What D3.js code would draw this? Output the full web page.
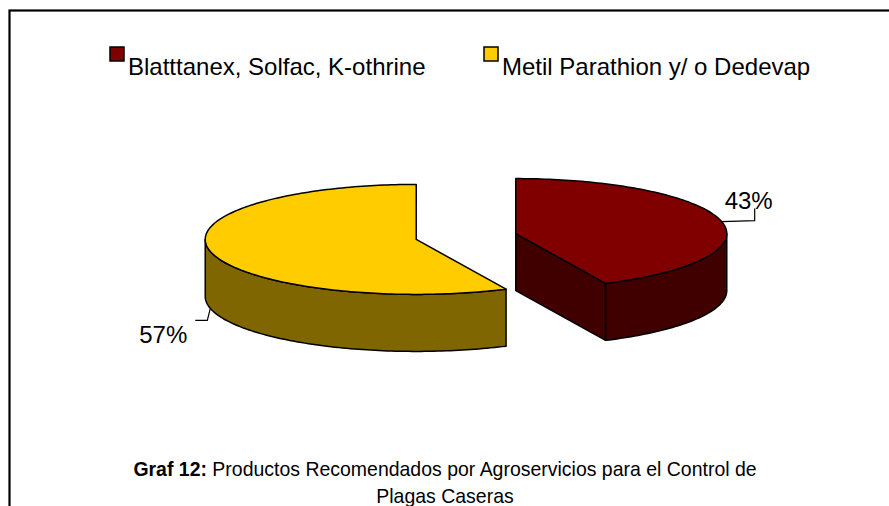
<!DOCTYPE html>
<html lang="es">
<head>
  <meta charset="UTF-8">
  <title>Graf 12 - Productos Recomendados</title>
  <script src="https://d3js.org/d3.v7.min.js"></script>
  <style>
    body { margin: 0; background: #fff; font-family: "Liberation Sans", Arial, sans-serif; }
    svg { display: block; }
  </style>
</head>
<body>
  <div id="chart"></div>
  <script>
    // datos del gráfico
    const labels = ["Blatttanex, Solfac, K-othrine", "Metil Parathion y/ o Dedevap"];
    const values = [43, 57];
    const topColors = ["#800000", "#ffcc00"];
    const sideColors = ["#400000", "#806600"];
    const titleBold = "Graf 12:";
    const titleRest = " Productos Recomendados por Agroservicios para el Control de";
    const titleLine2 = "Plagas Caseras";

    const width = 889, height = 506;
    const svg = d3.select("#chart").append("svg").attr("width", width).attr("height", height);

    // marco (se corta por la derecha y por abajo)
    svg.append("rect")
      .attr("x", 9.5).attr("y", 10.5)
      .attr("width", 1000).attr("height", 600)
      .attr("fill", "#fff").attr("stroke", "#000").attr("stroke-width", 2.2);

    // geometria del pastel 3D
    const cx = 466, cy = 236.5, rx = 211, ry = 55, depth = 57, explode = 51;

    const pie = d3.pie().sort(null).value(d => d)(values);

    const pt = (c, a, dy = 0) => [c[0] + rx * Math.sin(a), c[1] - ry * Math.cos(a) + dy];

    function arcPoints(c, a0, a1, dy) {
      const n = Math.max(2, Math.ceil((a1 - a0) / 0.02));
      return d3.range(n + 1).map(i => pt(c, a0 + (a1 - a0) * i / n, dy));
    }

    const line = d3.line();
    const g = svg.append("g");

    pie.forEach((s, i) => {
      const mid = (s.startAngle + s.endAngle) / 2;
      const c = [cx + explode * Math.sin(mid), cy - explode * Math.cos(mid) * ry / rx];
      s.center = c;
      s.mid = mid;
      const sg = g.append("g");

      // caras radiales visibles
      [[s.startAngle, -1], [s.endAngle, 1]].forEach(([a, sign]) => {
        if (sign * Math.sin(a) > 1e-6) {
          const p = pt(c, a);
          sg.append("path")
            .attr("d", line([c, p, [p[0], p[1] + depth], [c[0], c[1] + depth]]) + "Z")
            .attr("fill", sideColors[i]).attr("stroke", "#000").attr("stroke-width", 1.5)
            .attr("stroke-linejoin", "round");
        }
      });

      // pared exterior (mitad frontal)
      const f0 = Math.max(s.startAngle, Math.PI / 2);
      const f1 = Math.min(s.endAngle, 3 * Math.PI / 2);
      if (f1 > f0) {
        const topArc = arcPoints(c, f0, f1, 0);
        const botArc = arcPoints(c, f0, f1, depth).reverse();
        sg.append("path")
          .attr("d", line(topArc.concat(botArc)) + "Z")
          .attr("fill", sideColors[i]).attr("stroke", "#000").attr("stroke-width", 1.5)
          .attr("stroke-linejoin", "round");
      }

      // cara superior
      sg.append("path")
        .attr("d", line([c].concat(arcPoints(c, s.startAngle, s.endAngle, 0))) + "Z")
        .attr("fill", topColors[i]).attr("stroke", "#000").attr("stroke-width", 1.5)
        .attr("stroke-linejoin", "round");
    });

    // etiquetas de porcentaje con lineas guia
    const total = d3.sum(values);
    pie.forEach((s, i) => {
      const upper = Math.cos(s.mid) > 0;
      const a = pt(s.center, s.mid, upper ? 0 : depth);
      const right = Math.sin(s.mid) > 0;
      const pct = Math.round(s.value / total * 100) + "%";
      if (right) {
        const p1 = [a[0] + 33, a[1] - 1], p2 = [a[0] + 33, a[1] - 13];
        svg.append("path").attr("d", line([a, p1, p2]))
          .attr("fill", "none").attr("stroke", "#000").attr("stroke-width", 1.2);
        svg.append("text").attr("x", p2[0] - 6).attr("y", p2[1])
          .attr("text-anchor", "middle").attr("font-size", 24).attr("fill", "#000").text(pct);
      } else {
        const p1 = [a[0] - 3, a[1] + 12], p2 = [a[0] - 15, a[1] + 12];
        svg.append("path").attr("d", line([a, p1, p2]))
          .attr("fill", "none").attr("stroke", "#000").attr("stroke-width", 1.2);
        svg.append("text").attr("x", p2[0] - 8).attr("y", p2[1] + 23)
          .attr("text-anchor", "end").attr("font-size", 24).attr("fill", "#000").text(pct);
      }
    });

    // leyenda
    const legendX = [110, 484];
    labels.forEach((l, i) => {
      svg.append("rect")
        .attr("x", legendX[i]).attr("y", 47).attr("width", 14).attr("height", 14)
        .attr("fill", topColors[i]).attr("stroke", "#000").attr("stroke-width", 1.5);
      svg.append("text")
        .attr("x", legendX[i] + 18).attr("y", 75)
        .attr("font-size", 24).attr("fill", "#000").text(l);
    });

    // titulo
    const t = svg.append("g").attr("transform", "translate(445,476) scale(0.95,1)");
    const t1 = t.append("text").attr("text-anchor", "middle").attr("font-size", 20.5).attr("fill", "#000");
    t1.append("tspan").attr("font-weight", "bold").text(titleBold);
    t1.append("tspan").text(titleRest);
    t.append("text").attr("y", 27).attr("text-anchor", "middle").attr("font-size", 20.5)
      .attr("fill", "#000").text(titleLine2);
  </script>
</body>
</html>
